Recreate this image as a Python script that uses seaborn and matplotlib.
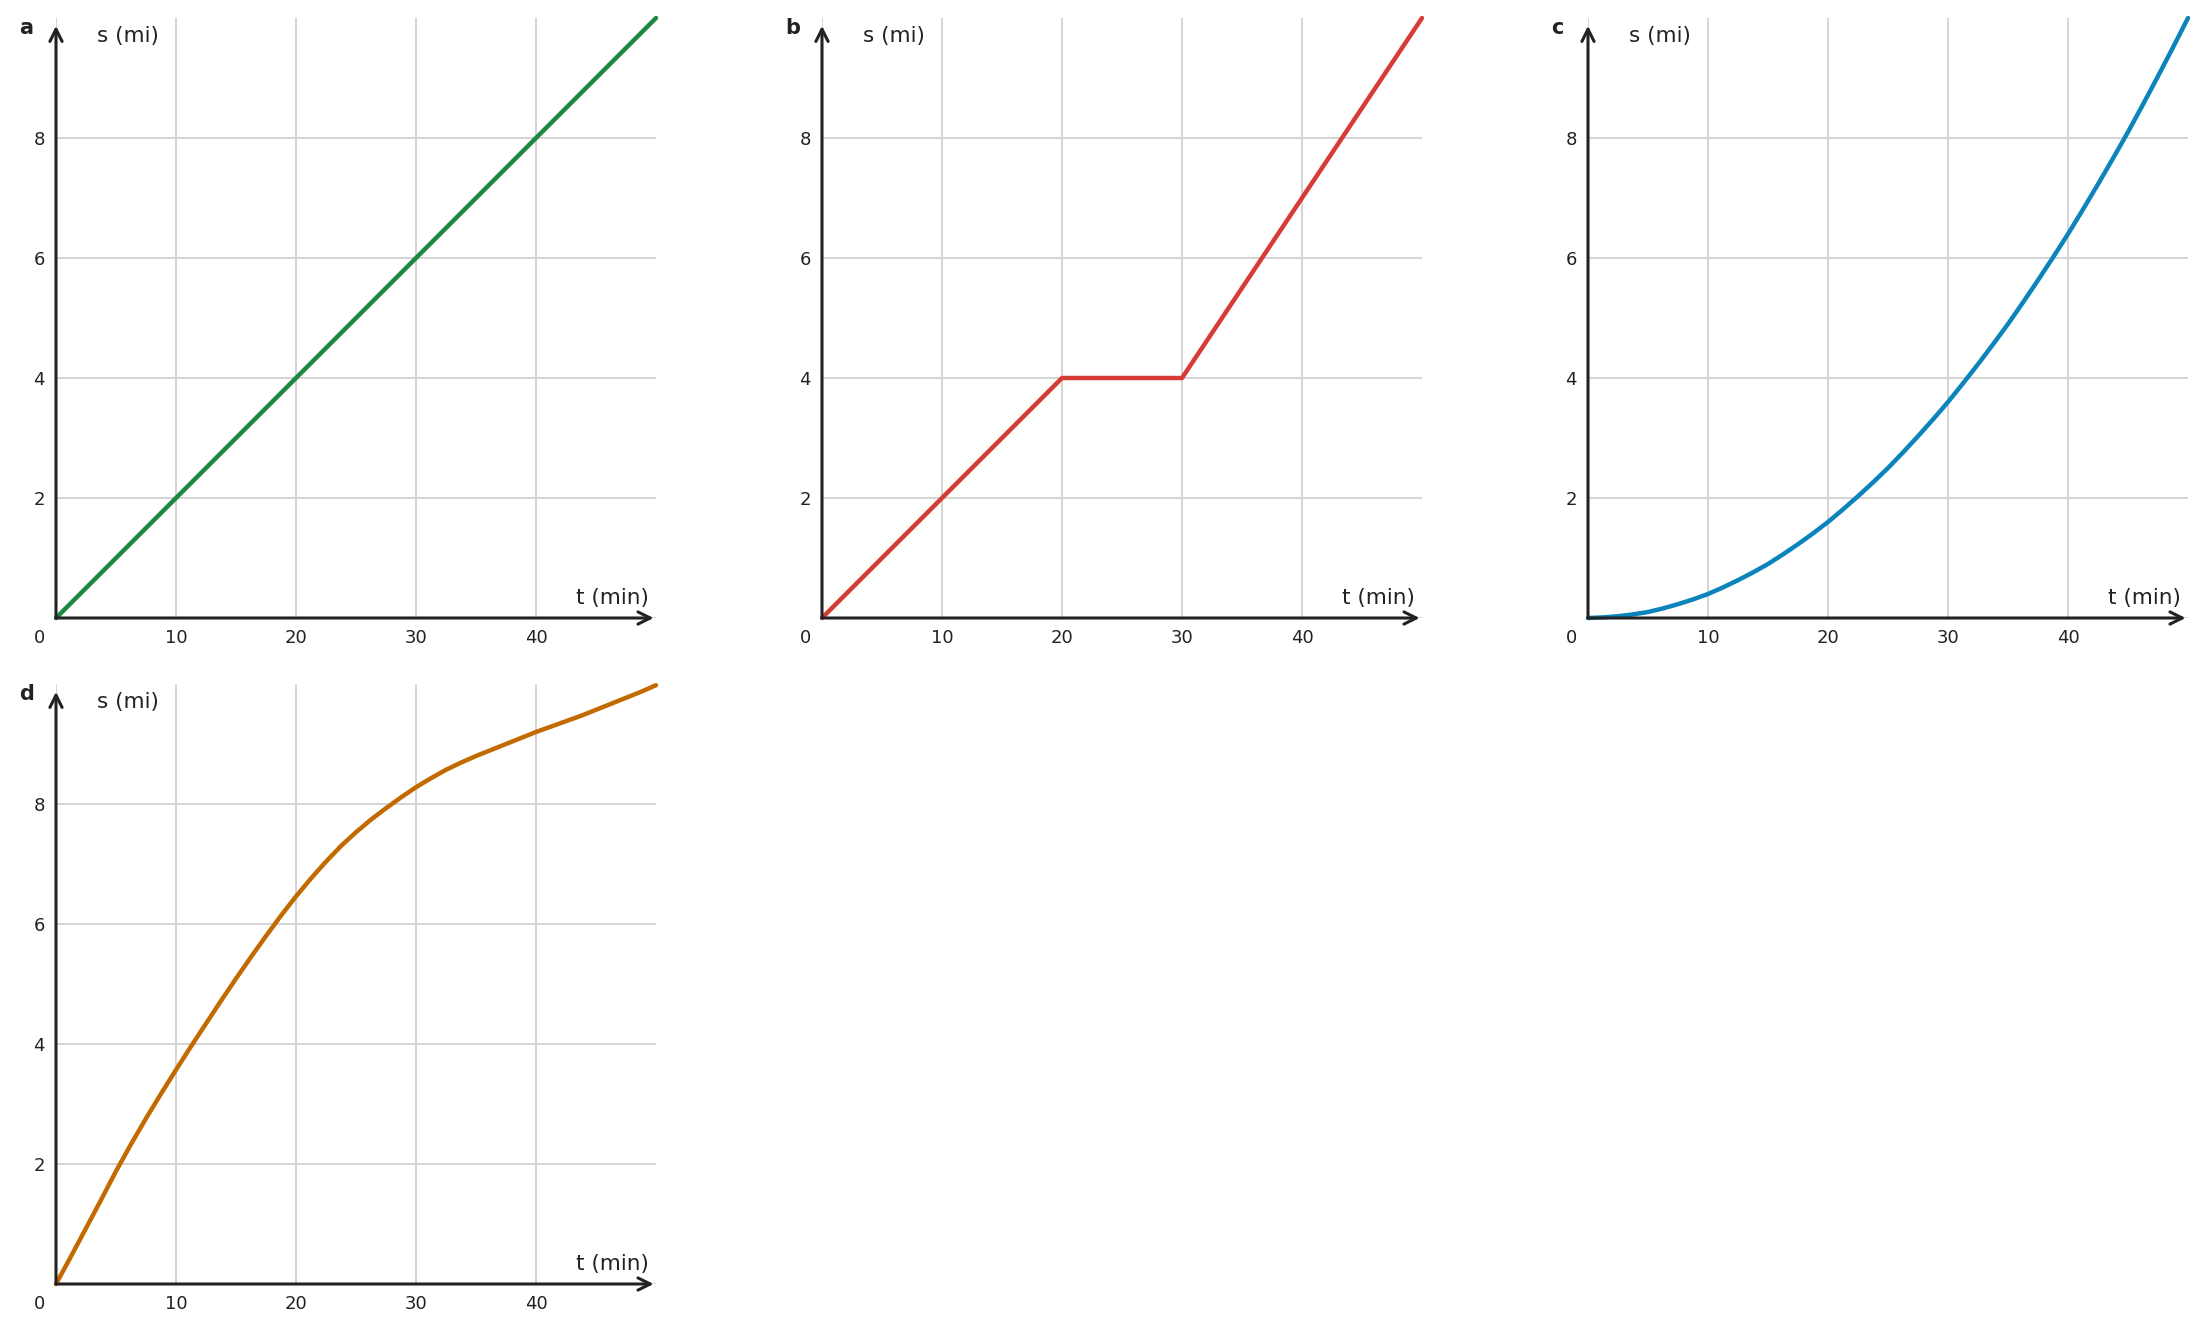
import matplotlib
matplotlib.use("Agg")
import matplotlib.pyplot as plt
import seaborn as sns
import pandas as pd

# Data
t_a = [0, 50]
s_a = [0, 10]

t_b = [0, 20, 30, 50]
s_b = [0, 4, 4, 10]

t_fine = [0, 1.25, 2.5, 3.75, 5, 6.25, 7.5, 8.75, 10, 11.25, 12.5, 13.75, 15,
          16.25, 17.5, 18.75, 20, 21.25, 22.5, 23.75, 25, 26.25, 27.5, 28.75,
          30, 31.25, 32.5, 33.75, 35, 36.25, 37.5, 38.75, 40, 41.25, 42.5,
          43.75, 45, 46.25, 47.5, 48.75, 50]

t_c = t_fine
s_c = [0, 0.01, 0.03, 0.06, 0.1, 0.16, 0.23, 0.31, 0.4, 0.51, 0.63, 0.76, 0.9,
       1.06, 1.23, 1.41, 1.6, 1.81, 2.03, 2.26, 2.5, 2.76, 3.03, 3.31, 3.6,
       3.91, 4.23, 4.56, 4.9, 5.26, 5.63, 6.01, 6.4, 6.81, 7.23, 7.66, 8.1,
       8.56, 9.03, 9.51, 10]

t_d = t_fine
s_d = [0, 0.46, 0.93, 1.40, 1.88, 2.33, 2.76, 3.17, 3.57, 3.96, 4.34, 4.72,
       5.09, 5.45, 5.80, 6.14, 6.46, 6.76, 7.04, 7.30, 7.53, 7.74, 7.93, 8.11,
       8.28, 8.43, 8.57, 8.69, 8.80, 8.90, 9.00, 9.10, 9.20, 9.29, 9.38, 9.47,
       9.57, 9.67, 9.77, 9.87, 9.98]

panels = ["a", "b", "c", "d"]
colors = ["#1b8a3e", "#d63b35", "#0a84ba", "#c26a00"]
x_ticks = [10, 20, 30, 40]
y_ticks = [2, 4, 6, 8]

sns.set_theme(style="white")
plt.rcParams["font.family"] = ["DejaVu Sans"]

fig = plt.figure(figsize=(22.08, 13.33), dpi=100)
W, H = 2208, 1333
boxes = [(56, 618), (822, 618), (1588, 618), (56, 1284)]

series = [(t_a, s_a), (t_b, s_b), (t_c, s_c), (t_d, s_d)]
ink = "#222222"

for (left, base), (t, s), letter, col in zip(boxes, series, panels, colors):
    ax = fig.add_axes([left / W, 1 - base / H, 600 / W, 600 / H])
    df = pd.DataFrame({"t": t, "s": s})

    for x in [0] + x_ticks:
        ax.axvline(x, color="#d4d4d4", lw=1.4, zorder=0)
    for y in [0] + y_ticks:
        ax.axhline(y, color="#d4d4d4", lw=1.4, zorder=0)

    sns.lineplot(data=df, x="t", y="s", ax=ax, color=col, lw=3.2,
                 estimator=None, sort=False, zorder=3, clip_on=False)

    ax.set_xlim(0, 50)
    ax.set_ylim(0, 10)
    for sp in ax.spines.values():
        sp.set_visible(False)

    ax.set_xticks(x_ticks)
    ax.set_yticks(y_ticks)
    ax.tick_params(axis="both", direction="in", length=5, width=2,
                   color=ink, labelcolor=ink, labelsize=13, pad=8)
    ax.set_xlabel("")
    ax.set_ylabel("")

    ax.annotate("", xy=(49.8, 0), xytext=(0, 0), annotation_clip=False,
                arrowprops=dict(arrowstyle="->", lw=2.2, color=ink,
                                mutation_scale=22, shrinkA=0, shrinkB=0))
    ax.annotate("", xy=(0, 9.87), xytext=(0, 0), annotation_clip=False,
                arrowprops=dict(arrowstyle="->", lw=2.2, color=ink,
                                mutation_scale=22, shrinkA=0, shrinkB=0))

    ax.text(3.4, 9.7, "s (mi)", fontsize=15.5, color=ink, ha="left", va="center")
    ax.text(49.4, 0.33, "t (min)", fontsize=15.5, color=ink, ha="right", va="center")
    ax.text(-1.4, -0.33, "0", fontsize=13, color=ink, ha="center", va="center")
    ax.text(-3.1, 9.83, letter, fontsize=15, fontweight="bold", color=ink,
            ha="left", va="center")

fig.savefig("out.png", dpi=100)
